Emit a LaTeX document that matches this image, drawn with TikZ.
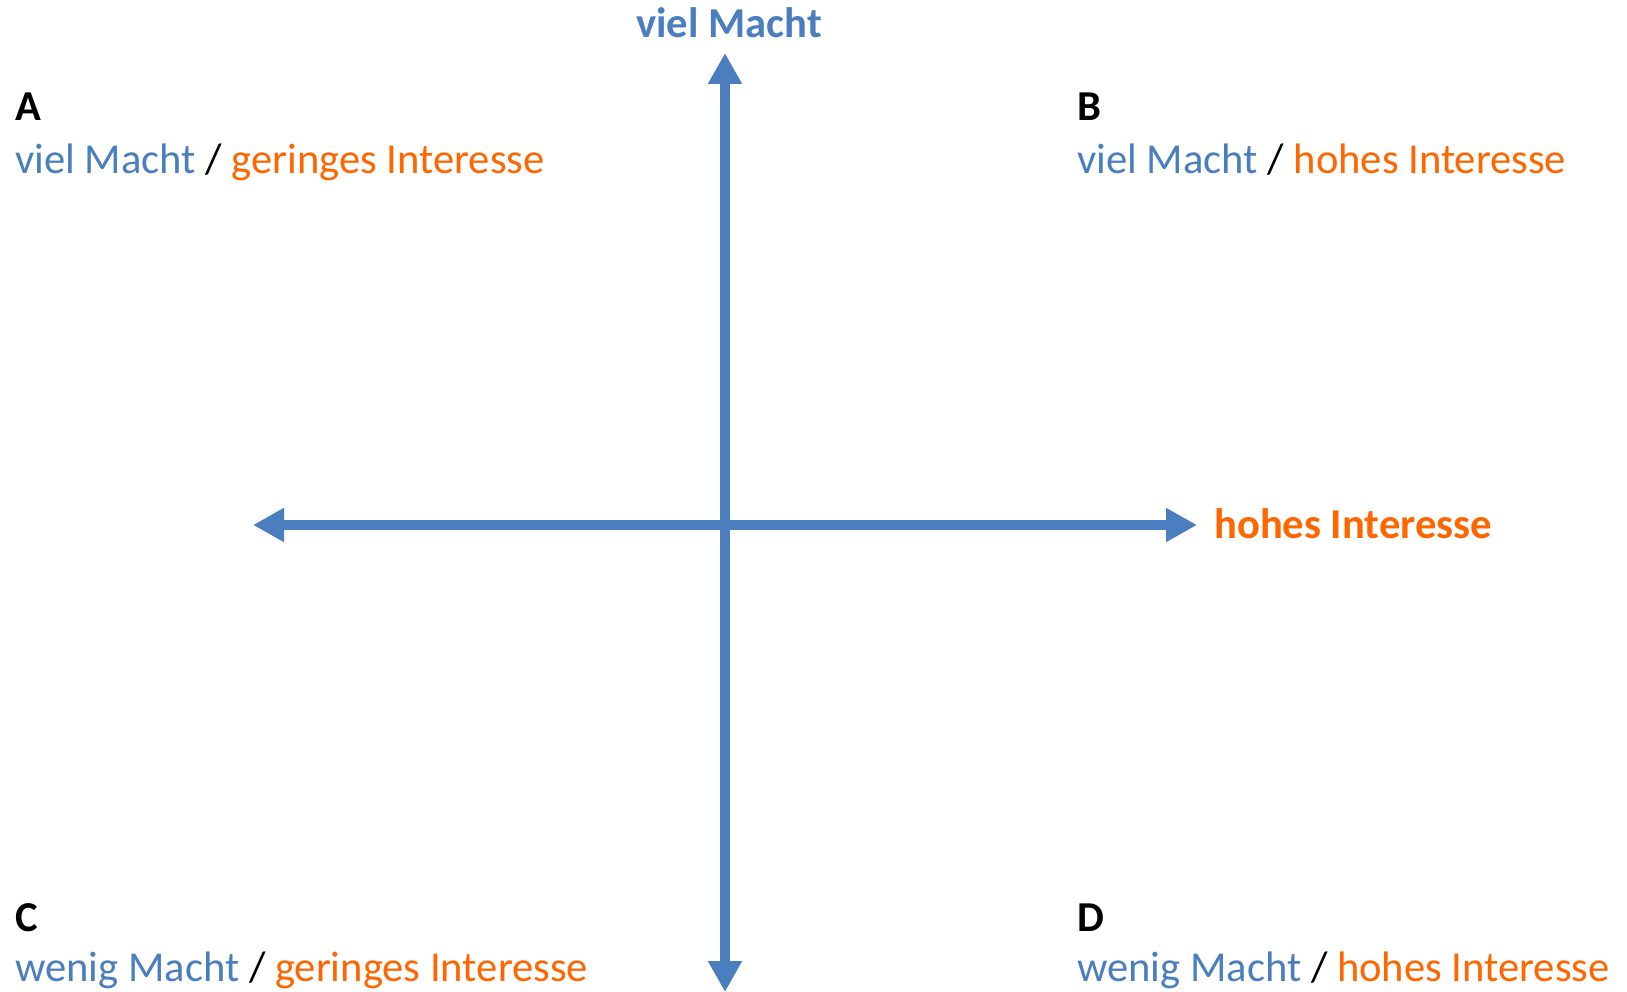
\documentclass[tikz,border=0pt]{standalone}
\usepackage{fontspec}
\setmainfont{Carlito}
\usetikzlibrary{arrows.meta}
\definecolor{axisblue}{HTML}{4A7EBF}
\definecolor{txtblue}{HTML}{4A7EBF}
\definecolor{txtorange}{HTML}{FF6600}
\tikzset{
  axis/.style={line width=10pt, color=axisblue, {Triangle[width=32pt,length=31pt]}-{Triangle[width=32pt,length=31pt]}},
  lbl/.style={inner sep=0pt, anchor=base west, font=\fontsize{42.6}{50}\selectfont},
  axlbl/.style={inner sep=0pt, font=\fontsize{42.6}{50}\selectfont\bfseries},
}
\begin{document}
\begin{tikzpicture}[x=1pt,y=1pt]
\useasboundingbox (0,0) rectangle (1627,-992);
\coordinate (vtop) at (725,-53);
\coordinate (vbot) at (725,-992);
\coordinate (hleft) at (253,-525);
\coordinate (hright) at (1197,-525);
\draw[axis] (vbot) -- (vtop);
\draw[axis] (hleft) -- (hright);
\node[axlbl, anchor=base, text=txtblue] (vm) at (729,-38) {viel Macht};
\node[axlbl, anchor=base west, text=txtorange] (hi) at (1214,-538) {hohes Interesse};
\node[lbl, font=\fontsize{42.6}{50}\selectfont\bfseries] (A) at (15,-121) {A};
\node[lbl] (a) at (15,-174) {\textcolor{txtblue}{viel Macht} / \textcolor{txtorange}{geringes Interesse}};
\node[lbl, font=\fontsize{42.6}{50}\selectfont\bfseries] (B) at (1077,-121) {B};
\node[lbl] (b) at (1077,-174) {\textcolor{txtblue}{viel Macht} / \textcolor{txtorange}{hohes Interesse}};
\node[lbl, font=\fontsize{42.6}{50}\selectfont\bfseries] (C) at (15,-931) {C};
\node[lbl] (c) at (15,-981) {\textcolor{txtblue}{wenig Macht} / \textcolor{txtorange}{geringes Interesse}};
\node[lbl, font=\fontsize{42.6}{50}\selectfont\bfseries] (D) at (1077,-931) {D};
\node[lbl] (d) at (1077,-981) {\textcolor{txtblue}{wenig Macht} / \textcolor{txtorange}{hohes Interesse}};
\end{tikzpicture}
\end{document}
